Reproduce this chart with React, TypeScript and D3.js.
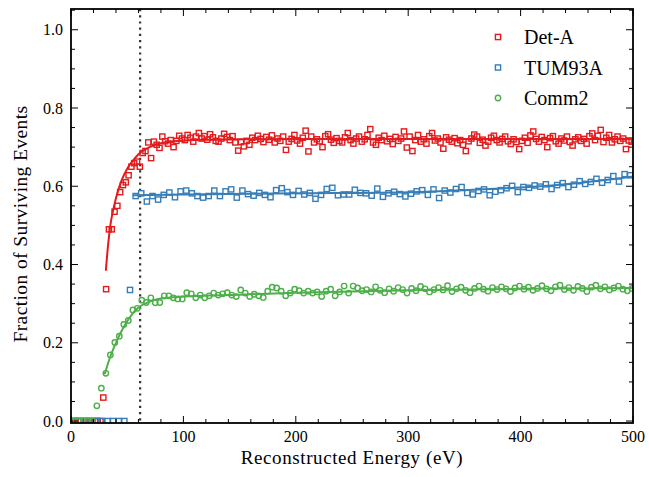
import React from 'react'
import * as d3 from 'd3'

// bin centres: Det-A 2.5 eV bins, TUM93A 5 eV bins, Comm2 4 eV bins
const detAStart = 1.25
const detAStep = 2.5
const detA = [
  0, 0, 0, 0, 0, 0, 0, 0, 0, 0,
  0, 0.06, 0.337, 0.49, 0.49, 0.535, 0.55, 0.585, 0.603, 0.61,
  0.628, 0.65, 0.659, 0.663, 0.65, 0.685, 0.69, 0.712, 0.672, 0.714,
  0.706, 0.698, 0.727, 0.715, 0.709, 0.718, 0.7, 0.716, 0.729, 0.722,
  0.718, 0.731, 0.724, 0.714, 0.727, 0.736, 0.722, 0.728, 0.719, 0.733,
  0.725, 0.716, 0.714, 0.722, 0.734, 0.726, 0.718, 0.728, 0.712, 0.691,
  0.713, 0.702, 0.716, 0.706, 0.724, 0.718, 0.729, 0.721, 0.713, 0.726,
  0.719, 0.73, 0.712, 0.722, 0.716, 0.727, 0.693, 0.714, 0.721, 0.731,
  0.717, 0.709, 0.724, 0.742, 0.689, 0.727, 0.712, 0.72, 0.715, 0.7,
  0.728, 0.733, 0.719, 0.711, 0.723, 0.716, 0.712, 0.725, 0.736, 0.718,
  0.709, 0.722, 0.727, 0.714, 0.72, 0.731, 0.746, 0.712, 0.706, 0.724,
  0.718, 0.729, 0.715, 0.721, 0.708, 0.726, 0.716, 0.722, 0.74, 0.699,
  0.727, 0.69, 0.718, 0.731, 0.714, 0.72, 0.709, 0.728, 0.736, 0.717,
  0.722, 0.712, 0.696, 0.725, 0.719, 0.714, 0.723, 0.71, 0.718, 0.706,
  0.69, 0.715, 0.722, 0.732, 0.727, 0.711, 0.719, 0.704, 0.714, 0.724,
  0.729, 0.718, 0.712, 0.721, 0.727, 0.715, 0.708, 0.72, 0.713, 0.695,
  0.716, 0.724, 0.711, 0.73, 0.74, 0.721, 0.714, 0.726, 0.718, 0.7,
  0.723, 0.728, 0.715, 0.709, 0.722, 0.717, 0.727, 0.713, 0.704, 0.72,
  0.725, 0.716, 0.721, 0.709, 0.728, 0.735, 0.718, 0.729, 0.744, 0.713,
  0.724, 0.731, 0.712, 0.72, 0.727, 0.716, 0.722, 0.695, 0.717, 0.714,
]

const tumStart = 2.5
const tumStep = 5
const tum93A = [
  0, 0, 0, 0, 0, 0, 0, 0, 0, 0,
  0.335, 0.575, 0.582, 0.561, 0.575, 0.566, 0.578, 0.584, 0.572, 0.587,
  0.589, 0.582, 0.575, 0.571, 0.575, 0.589, 0.575, 0.587, 0.592, 0.571,
  0.589, 0.58, 0.576, 0.583, 0.578, 0.572, 0.59, 0.595, 0.585, 0.578,
  0.588, 0.579, 0.583, 0.568, 0.578, 0.593, 0.596, 0.577, 0.579, 0.579,
  0.591, 0.583, 0.582, 0.576, 0.594, 0.573, 0.582, 0.586, 0.58, 0.574,
  0.581, 0.587, 0.59, 0.578, 0.592, 0.57, 0.589, 0.584, 0.593, 0.598,
  0.583, 0.579, 0.588, 0.592, 0.577, 0.586, 0.59, 0.595, 0.601, 0.585,
  0.598, 0.596, 0.602, 0.599, 0.605, 0.593, 0.603, 0.608, 0.598, 0.604,
  0.613, 0.606, 0.611, 0.619, 0.609, 0.616, 0.626, 0.612, 0.631, 0.628,
]

const commStart = 3
const commStep = 4
const comm2 = [
  0, 0, 0, 0, 0, 0.039, 0.084, 0.122, 0.169, 0.201,
  0.217, 0.247, 0.257, 0.284, 0.288, 0.309, 0.303, 0.315, 0.302, 0.303,
  0.32, 0.32, 0.315, 0.312, 0.312, 0.328, 0.325, 0.315, 0.322, 0.315,
  0.32, 0.327, 0.322, 0.325, 0.328, 0.322, 0.318, 0.335, 0.327, 0.318,
  0.324, 0.32, 0.316, 0.332, 0.342, 0.34, 0.332, 0.32, 0.327, 0.337,
  0.333, 0.327, 0.332, 0.327, 0.33, 0.318, 0.332, 0.337, 0.32, 0.33,
  0.345, 0.327, 0.345, 0.34, 0.333, 0.336, 0.33, 0.343, 0.334, 0.328,
  0.338, 0.332, 0.341, 0.336, 0.327, 0.339, 0.333, 0.344, 0.338, 0.33,
  0.336, 0.341, 0.335, 0.346, 0.331, 0.338, 0.342, 0.334, 0.328, 0.339,
  0.345, 0.337, 0.332, 0.341, 0.336, 0.343, 0.338, 0.331, 0.34, 0.345,
  0.337, 0.342, 0.334, 0.339, 0.346, 0.338, 0.333, 0.343, 0.347, 0.336,
  0.341, 0.334, 0.344, 0.339, 0.331, 0.342, 0.347, 0.338, 0.343, 0.335,
  0.34, 0.345, 0.337, 0.333, 0.339,
]

// fitted curves [energy, fraction]
const detAFit: [number, number][] = [
  [31, 0.384], [33, 0.45], [35, 0.5], [38, 0.545], [41, 0.58], [45, 0.615],
  [50, 0.645], [55, 0.665], [60, 0.682], [70, 0.7], [80, 0.71], [100, 0.717],
  [150, 0.72], [250, 0.721], [500, 0.721],
]
const tumFit: [number, number][] = [
  [55, 0.577], [100, 0.579], [200, 0.582], [300, 0.585], [350, 0.59],
  [400, 0.597], [450, 0.608], [500, 0.625],
]
const commFit: [number, number][] = [
  [30, 0.12], [35, 0.165], [40, 0.2], [45, 0.23], [50, 0.255], [55, 0.275],
  [60, 0.29], [70, 0.305], [80, 0.313], [100, 0.318], [150, 0.323],
  [200, 0.328], [300, 0.334], [400, 0.338], [500, 0.34],
]

const cutEnergy = 61.5
const xTicks = [0, 100, 200, 300, 400, 500]
const yTicks = [0, 0.2, 0.4, 0.6, 0.8, 1.0]
const legendNames = ['Det-A', 'TUM93A', 'Comm2']

const RED = '#e41a1c'
const BLUE = '#377eb8'
const GREEN = '#4daf4a'
const FONT = '"Liberation Serif", "Times New Roman", serif'

const W = 649
const H = 477
const m = { left: 71, right: 633, top: 9, bottom: 423 }

const App = () => {
  const x = d3.scaleLinear().domain([0, 500]).range([m.left, m.right])
  const y = d3.scaleLinear().domain([-0.005, 1.053]).range([m.bottom, m.top])

  const pts = (vals: number[], start: number, step: number) =>
    vals.map((v, i) => [start + i * step, v] as [number, number])

  const line = d3.line<[number, number]>()
    .x((d) => x(d[0]))
    .y((d) => y(d[1]))
    .curve(d3.curveMonotoneX)

  const xMinor = d3.range(0, 501, 20)
  const yMinor = d3.range(0, 1.051, 0.05)

  const square = (d: [number, number], i: number, color: string) => (
    <rect key={i} x={x(d[0]) - 2.6} y={y(d[1]) - 2.6} width={5.2} height={5.2}
      fill="none" stroke={color} strokeWidth={1.4} />
  )
  const circle = (d: [number, number], i: number) => (
    <circle key={i} cx={x(d[0])} cy={y(d[1])} r={2.7}
      fill="none" stroke={GREEN} strokeWidth={1.4} />
  )

  const legendColors = [RED, BLUE, GREEN]

  return (
    <svg width={W} height={H} style={{ position: 'absolute', left: 0, top: 0, background: '#fff' }}>
      <defs>
        <clipPath id="plot">
          <rect x={m.left} y={m.top} width={m.right - m.left} height={m.bottom - m.top} />
        </clipPath>
      </defs>

      <g clipPath="url(#plot)">
        <line x1={x(cutEnergy)} x2={x(cutEnergy)} y1={m.top} y2={m.bottom}
          stroke="#333" strokeWidth={2.2} strokeDasharray="2.2 4" />
        <g>{pts(detA, detAStart, detAStep).map((d, i) => square(d, i, RED))}</g>
        <path d={line(detAFit) || ''} fill="none" stroke={RED} strokeWidth={2} />
        <g>{pts(tum93A, tumStart, tumStep).map((d, i) => square(d, i, BLUE))}</g>
        <path d={line(tumFit) || ''} fill="none" stroke={BLUE} strokeWidth={2} />
        <g>{pts(comm2, commStart, commStep).map((d, i) => circle(d, i))}</g>
        <path d={line(commFit) || ''} fill="none" stroke={GREEN} strokeWidth={2} />
      </g>

      {/* ticks on all four sides, pointing in */}
      <g stroke="#000" strokeWidth={1}>
        {xMinor.map((t) => {
          const len = t % 100 === 0 ? 7 : 4
          return (
            <g key={'x' + t}>
              <line x1={x(t)} x2={x(t)} y1={m.bottom} y2={m.bottom - len} />
              <line x1={x(t)} x2={x(t)} y1={m.top} y2={m.top + len} />
            </g>
          )
        })}
        {yMinor.map((t, i) => {
          const len = i % 4 === 0 ? 7 : 4
          return (
            <g key={'y' + i}>
              <line x1={m.left} x2={m.left + len} y1={y(t)} y2={y(t)} />
              <line x1={m.right} x2={m.right - len} y1={y(t)} y2={y(t)} />
            </g>
          )
        })}
      </g>

      <rect x={m.left} y={m.top} width={m.right - m.left} height={m.bottom - m.top}
        fill="none" stroke="#000" strokeWidth={1.8} />

      <g fontFamily={FONT} fontSize={16} fill="#000">
        {xTicks.map((t) => (
          <text key={t} x={x(t)} y={442} textAnchor="middle">{t}</text>
        ))}
        {yTicks.map((t) => (
          <text key={t} x={m.left - 8} y={y(t) + 5.5} textAnchor="end">{t.toFixed(1)}</text>
        ))}
      </g>

      <text x={(m.left + m.right) / 2} y={464} textAnchor="middle" letterSpacing={0.6}
        fontFamily={FONT} fontSize={19}>Reconstructed Energy (eV)</text>
      <text transform={`translate(27,${(m.top + m.bottom) / 2 + 8}) rotate(-90)`} textAnchor="middle"
        letterSpacing={0.4} fontFamily={FONT} fontSize={19.5}>Fraction of Surviving Events</text>

      <g fontFamily={FONT} fontSize={20}>
        {legendNames.map((name, i) => {
          const cy = 37 + i * 30.5
          return (
            <g key={name}>
              {i < 2
                ? <rect x={498 - 2.6} y={cy - 2.6} width={5.2} height={5.2} fill="none"
                  stroke={legendColors[i]} strokeWidth={1.4} />
                : <circle cx={498} cy={cy} r={2.7} fill="none" stroke={GREEN} strokeWidth={1.4} />}
              <text x={524} y={cy + 7}>{name}</text>
            </g>
          )
        })}
      </g>
    </svg>
  )
}

export default App
